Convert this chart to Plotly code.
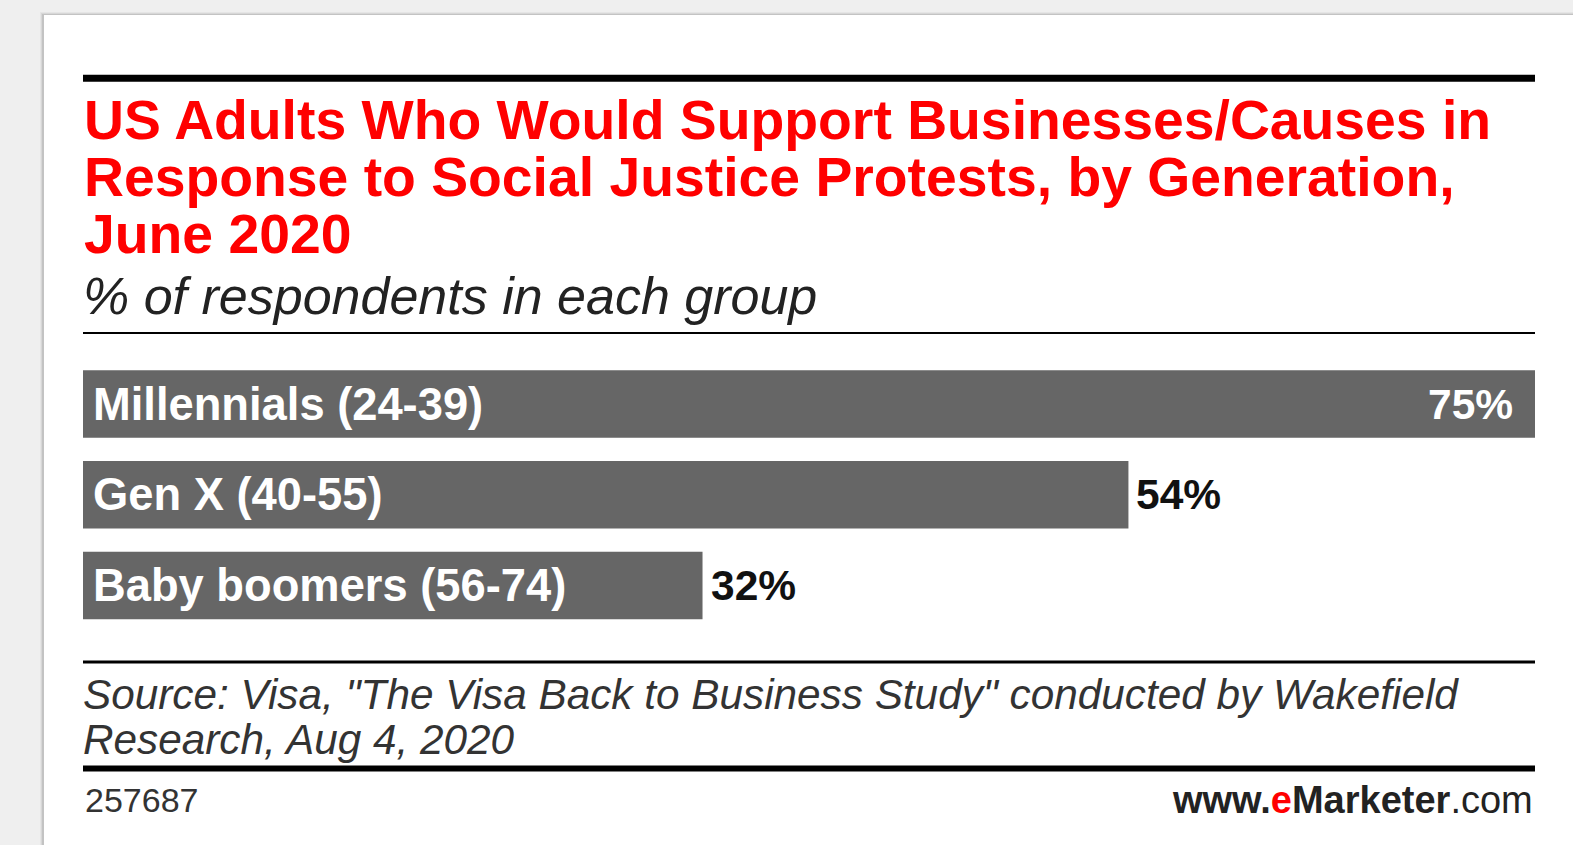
import plotly.graph_objects as go

W, H = 1573, 845

categories = ["Millennials (24-39)", "Gen X (40-55)", "Baby boomers (56-74)"]
values = [75, 54, 32]
value_labels = ["75%", "54%", "32%"]

title_lines = [
    "US Adults Who Would Support Businesses/Causes in",
    "Response to Social Justice Protests, by Generation,",
    "June 2020",
]
subtitle = "% of respondents in each group"
source_lines = [
    "Source: Visa, \"The Visa Back to Business Study\" conducted by Wakefield",
    "Research, Aug 4, 2020",
]
chart_id = "257687"

def px(x):
    return x / W

def py(y):
    return 1 - y / H

BAR = "#666666"
X0, X1 = 83, 1535
FONT = "Liberation Sans"

fig = go.Figure()
fig.add_trace(go.Bar(
    y=categories, x=values, orientation="h",
    marker=dict(color=BAR, line=dict(width=0)),
    hoverinfo="skip",
))

shapes = []
# card shadow + card
for i, op in enumerate([0.04, 0.06, 0.09]):
    shapes.append(dict(type="rect", xref="paper", yref="paper",
                       x0=px(44 - 4 + i), x1=1.01, y0=-0.01, y1=py(15 - 3 + i),
                       fillcolor="#000000", opacity=op, line=dict(width=0), layer="below"))
shapes.append(dict(type="rect", xref="paper", yref="paper",
                   x0=px(44), x1=1.01, y0=-0.01, y1=py(15),
                   fillcolor="white", line=dict(width=0), layer="below"))

def hline(y, w):
    shapes.append(dict(type="line", xref="paper", yref="paper",
                       x0=px(X0), x1=px(X1), y0=py(y), y1=py(y),
                       line=dict(color="#000000", width=w)))
hline(78.3, 7)
hline(333, 2)
hline(662, 3)
hline(768.5, 6)

annotations = []
for i, line in enumerate(title_lines):
    annotations.append(dict(
        text=line, xref="paper", yref="paper", x=px(X0 - 1), y=py(120 + 57.2 * i),
        xanchor="left", yanchor="middle", showarrow=False,
        font=dict(family=FONT, size=55.3, color="#ff0000", weight="bold"),
    ))
annotations.append(dict(
    text="<i>" + subtitle + "</i>", xref="paper", yref="paper", x=px(X0 - 2), y=py(296),
    xanchor="left", yanchor="middle", showarrow=False,
    font=dict(family=FONT, size=52, color="#222222"),
))
for i, line in enumerate(source_lines):
    annotations.append(dict(
        text="<i>" + line + "</i>", xref="paper", yref="paper", x=px(X0 - 2), y=py(694.5 + 45 * i),
        xanchor="left", yanchor="middle", showarrow=False,
        font=dict(family=FONT, size=42.3, color="#333333"),
    ))
annotations.append(dict(
    text=chart_id, xref="paper", yref="paper", x=px(X0), y=py(800),
    xanchor="left", yanchor="middle", showarrow=False,
    font=dict(family=FONT, size=34, color="#333333"),
))
annotations.append(dict(
    text="<b>www.</b><b><span style='color:#ff0000'>e</span>Marketer</b>.com",
    xref="paper", yref="paper", x=px(X1), y=py(800),
    xanchor="right", yanchor="middle", showarrow=False,
    font=dict(family=FONT, size=38, color="#222222"),
))

max_v = max(values)
for c, v, lab in zip(categories, values, value_labels):
    annotations.append(dict(
        text=c, xref="x", yref="y", x=0, y=c, xanchor="left", yanchor="middle",
        xshift=8, showarrow=False,
        font=dict(family=FONT, size=45.3, color="white", weight="bold"),
    ))
    inside = v > 0.9 * max_v
    annotations.append(dict(
        text=lab, xref="x", yref="y", x=v, y=c,
        xanchor="right" if inside else "left", yanchor="middle",
        xshift=-20 if inside else 6, showarrow=False,
        font=dict(family=FONT, size=42.5, color="white" if inside else "#111111", weight="bold"),
    ))

slot_top, slot_bot = 370.3 - 11.6, 619.2 + 11.6
fig.update_layout(
    width=W, height=H, margin=dict(l=0, r=0, t=0, b=0),
    paper_bgcolor="#efefef", plot_bgcolor="rgba(0,0,0,0)",
    showlegend=False, bargap=23.2 / 90.3,
    xaxis=dict(domain=[px(X0), px(X1)], range=[0, max_v], visible=False, fixedrange=True),
    yaxis=dict(domain=[py(slot_bot), py(slot_top)], autorange="reversed", visible=False,
               fixedrange=True),
    shapes=shapes, annotations=annotations,
)

fig.write_html("out.html", config={"displayModeBar": False})
